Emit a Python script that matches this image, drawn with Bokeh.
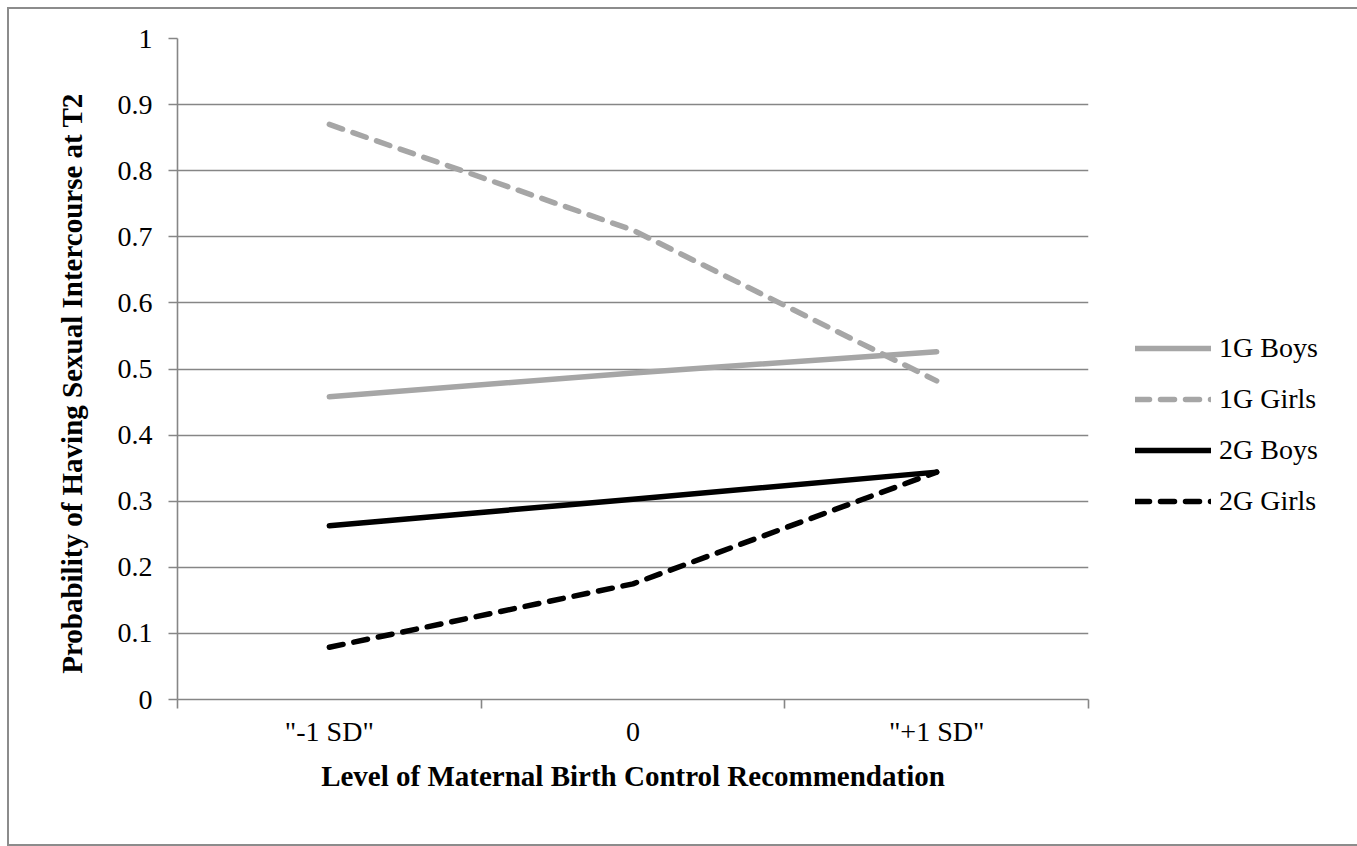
from bokeh.plotting import figure
from bokeh.layouts import column
from bokeh.models import Range1d, FixedTicker, Legend, LegendItem
from bokeh.embed import file_html
from bokeh.resources import INLINE

# ---- data ----
categories = ['"-1 SD"', "0", '"+1 SD"']
boys_1g = [0.458, 0.494, 0.526]
girls_1g = [0.870, 0.710, 0.482]
boys_2g = [0.263, 0.303, 0.344]
girls_2g = [0.079, 0.175, 0.344]
y_ticks = [0.0, 0.1, 0.2, 0.3, 0.4, 0.5, 0.6, 0.7, 0.8, 0.9, 1.0]
y_tick_labels = ["0", "0.1", "0.2", "0.3", "0.4", "0.5", "0.6", "0.7", "0.8", "0.9", "1"]
series_names = ["1G Boys", "1G Girls", "2G Boys", "2G Girls"]

FONT = "Liberation Serif"
GRID = "#868686"
LIGHT = "#a6a6a6"

xs = [i + 0.5 for i in range(len(categories))]

p = figure(frame_width=911, frame_height=661, output_backend="svg", toolbar_location=None,
           x_range=Range1d(0, len(categories)), y_range=Range1d(0, 1),
           min_border_left=168, min_border_top=29, min_border_right=261,
           min_border_bottom=145)
p.outline_line_color = None
p.background_fill_color = "white"
p.border_fill_color = "white"

# axes
p.xgrid.visible = False
p.ygrid.ticker = FixedTicker(ticks=y_ticks)
p.ygrid.grid_line_color = GRID
p.ygrid.grid_line_width = 1.6

p.yaxis.ticker = FixedTicker(ticks=y_ticks)
p.yaxis.major_label_overrides = {t: l for t, l in zip(y_ticks, y_tick_labels)}
p.yaxis.axis_line_color = GRID
p.yaxis.axis_line_width = 1.6
p.yaxis.major_tick_line_color = GRID
p.yaxis.major_tick_line_width = 1.6
p.yaxis.major_tick_out = 9
p.yaxis.major_tick_in = 0
p.yaxis.minor_tick_line_color = None
p.yaxis.major_label_standoff = 16
p.yaxis.major_label_text_font = FONT
p.yaxis.major_label_text_font_size = "28px"
p.yaxis.major_label_text_color = "black"
p.yaxis.axis_label = "Probability of Having Sexual Intercourse at T2" + "\u00a0" * 4
p.yaxis.axis_label_text_font = FONT
p.yaxis.axis_label_text_font_style = "bold"
p.yaxis.axis_label_text_font_size = "29px"
p.yaxis.axis_label_text_color = "black"
p.yaxis.axis_label_standoff = 27

p.xaxis.ticker = FixedTicker(ticks=xs, minor_ticks=list(range(len(categories) + 1)))
p.xaxis.major_label_overrides = {x: c for x, c in zip(xs, categories)}
p.xaxis.axis_line_color = GRID
p.xaxis.axis_line_width = 1.6
p.xaxis.major_tick_line_color = None
p.xaxis.major_tick_out = 0
p.xaxis.major_tick_in = 0
p.xaxis.minor_tick_line_color = GRID
p.xaxis.minor_tick_line_width = 1.6
p.xaxis.minor_tick_out = 9
p.xaxis.minor_tick_in = 0
p.xaxis.major_label_standoff = 7
p.xaxis.major_label_text_font = FONT
p.xaxis.major_label_text_font_size = "28px"
p.xaxis.major_label_text_color = "black"
p.xaxis.axis_label = "Level of Maternal Birth Control Recommendation"
p.xaxis.axis_label_text_font = FONT
p.xaxis.axis_label_text_font_style = "bold"
p.xaxis.axis_label_text_font_size = "29px"
p.xaxis.axis_label_text_color = "black"
p.xaxis.axis_label_standoff = 10

styles = [
    (boys_1g, LIGHT, "solid"),
    (girls_1g, LIGHT, "14 11"),
    (boys_2g, "black", "solid"),
    (girls_2g, "black", "14 11"),
]
items = []
for name, (vals, col, dash) in zip(series_names, styles):
    r = p.line(xs, vals, line_color=col, line_width=5.5, line_dash=dash,
               line_cap="round", line_join="round")
    items.append(LegendItem(label=name, renderers=[r]))

legend = Legend(items=items, location=(47, 182), glyph_width=76, glyph_height=30,
                label_height=30, spacing=19, label_standoff=8, padding=0, margin=0,
                border_line_color=None, background_fill_alpha=0,
                label_text_font=FONT, label_text_font_size="28px",
                label_text_color="black")
p.add_layout(legend, "right")

root = column(p, styles={"border": "2px solid #8c8c8c", "margin-left": "7px",
                         "margin-top": "7px"})

open("out.html", "w").write(file_html(root, INLINE))
